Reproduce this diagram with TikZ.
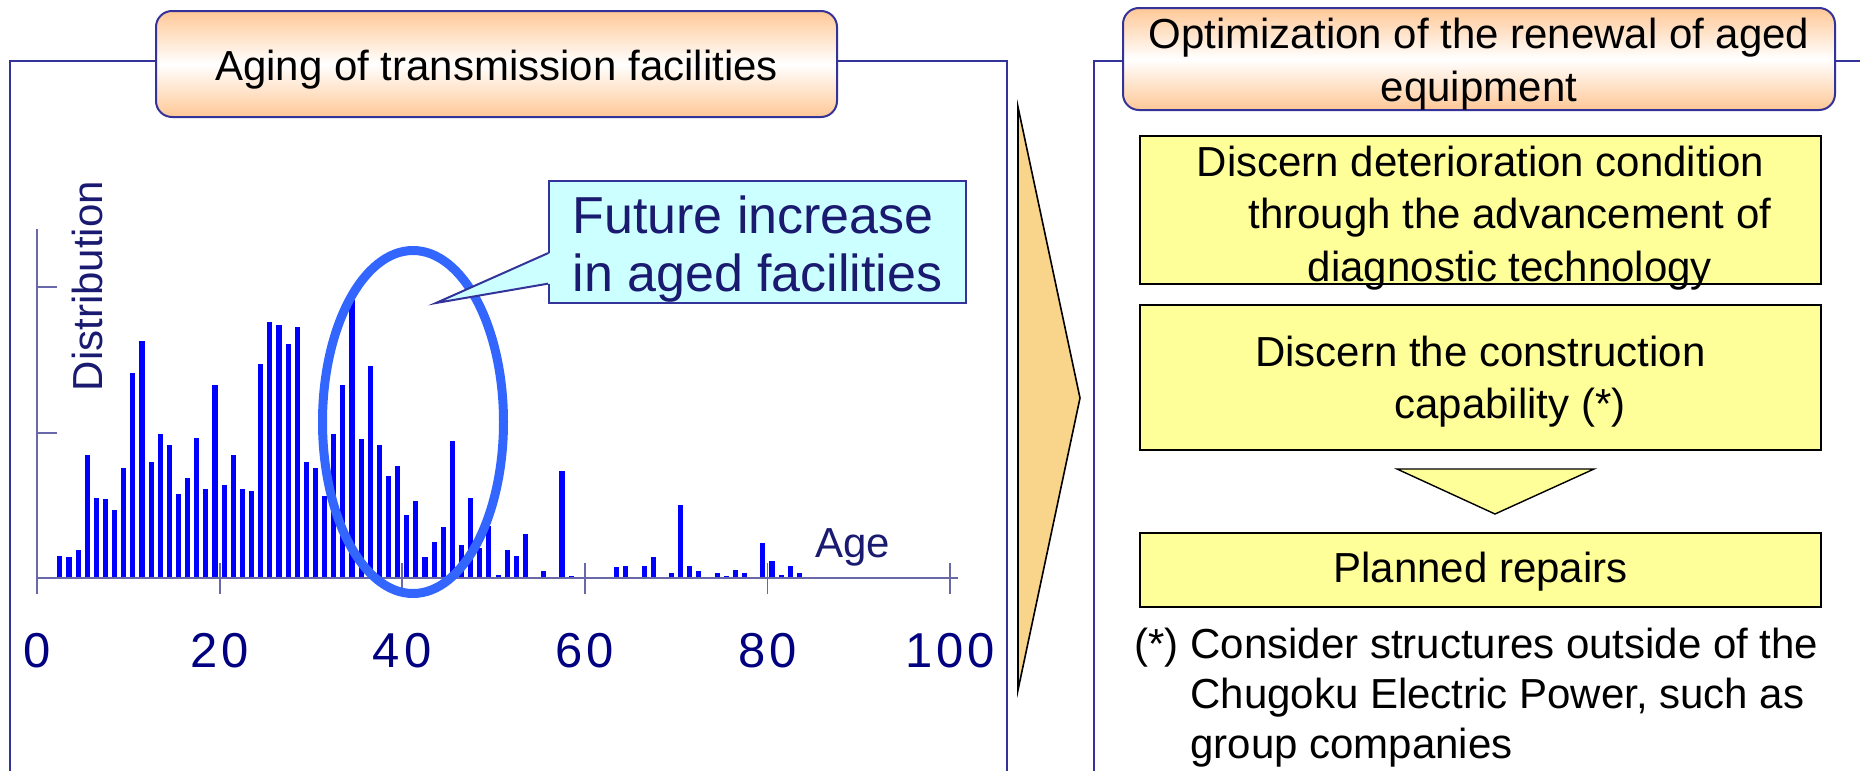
\documentclass[tikz,border=0pt]{standalone}
\usepackage{fontspec}
\setmainfont{Liberation Sans}
\newfontfamily\ticksfont[LetterSpace=8]{Liberation Sans}
\usetikzlibrary{calc,positioning}
\definecolor{framenavy}{RGB}{51,51,153}
\definecolor{textnavy}{RGB}{26,26,112}
\definecolor{ticknavy}{RGB}{0,0,128}
\definecolor{axisline}{RGB}{105,105,170}
\definecolor{barblue}{RGB}{0,0,255}
\definecolor{ringblue}{RGB}{51,102,255}
\definecolor{peach}{RGB}{255,200,150}
\definecolor{calloutcyan}{RGB}{204,255,255}
\definecolor{noteyellow}{RGB}{255,255,153}
\definecolor{arroworange}{RGB}{249,212,139}

\begin{document}
\begin{tikzpicture}[x=0.5pt,y=-0.5pt,
    frame/.style={draw=framenavy,line width=1pt},
    titlebox/.style={draw=framenavy,line width=1pt,rounded corners=8pt,top color=peach,bottom color=peach,middle color=white,inner sep=0pt,align=center,font=\fontsize{21}{26.5}\selectfont},
    stepbox/.style={draw=black,line width=1pt,fill=noteyellow,minimum width=340.5pt,inner sep=0pt},
    steptext/.style={inner sep=0pt,align=center,font=\fontsize{21}{26.2}\selectfont},
    axis/.style={draw=axisline,line width=0.9pt},
    ticklabel/.style={text=ticknavy,font=\ticksfont\fontsize{24.5}{26}\selectfont},
    navylabel/.style={text=textnavy,font=\fontsize{21}{25}\selectfont}]
    \useasboundingbox (0,0) rectangle (1860,771);
    \draw[frame] (10,771) -- (10,61) -- (1007,61) -- (1007,771);
    \draw[frame] (1860,61) -- (1094,61) -- (1094,771);
    \node[titlebox,minimum width=340.5pt,minimum height=53pt] (agingtitle) at (496.5,64) {\rule{0pt}{21pt}Aging of transmission facilities};
    \node[titlebox,minimum width=356pt,minimum height=51pt] (renewaltitle) at (1479,59) {\rule{0pt}{20pt}Optimization of the renewal of aged\\equipment};
    \begin{scope}[shift={(37,578)},x=4.565pt,y=0.5pt]
      \foreach \h [count=\i] in {22,21,28,123,80,79,68,110,205,237,116,144,133,84,100,140,89,193,93,123,89,87,214,256,253,234,251,116,110,82,144,193,278,139,212,133,102,112,63,77,21,36,51,137,33,80,30,52,3,28,22,44,0,7,0,107,2,0,0,0,0,11,12,0,12,21,0,5,73,12,7,0,5,2,8,5,0,35,17,3,12,5}
        \fill[barblue] (\i+1.22,0) rectangle (\i+1.78,\h);
      \draw[axis] (0,-16) -- (0,349);
      \draw[axis] (0,0) -- (100.9,0);
      \draw[axis] (0,145) -- ++(10pt,0);
      \draw[axis] (0,291) -- ++(10pt,0);
      \foreach \t in {20,40,...,100}
        \draw[axis] (\t,-16) -- (\t,15);
      \foreach \t in {0,20,...,100}
        \node[ticklabel] (age\t) at (\t,-73) {\t};
    \end{scope}
    \node[navylabel,rotate=90] (distlabel) at (87,286) {Distribution};
    \node[navylabel,anchor=base west] (agelabel) at (808,557) {Age};
    \draw[ringblue,line width=4.5pt] (413,422) ellipse [x radius=90.5, y radius=171.5];
    \node[draw=framenavy,line width=1pt,fill=calloutcyan,minimum width=208.5pt,minimum height=61pt,inner sep=0pt,align=left,text=textnavy,font=\fontsize{26}{29}\selectfont] (future) at (757.5,242) {\rule{0pt}{25.5pt}Future increase\\in aged facilities};
    \coordinate (tip) at (436,303);
    \fill[calloutcyan] ($(future.south west)!0.164!(future.north west)+(2,0)$) -- (tip) -- ($(future.south west)!0.41!(future.north west)+(2,0)$) -- cycle;
    \draw[framenavy,line width=1pt] ($(future.south west)!0.164!(future.north west)$) -- (tip) -- ($(future.south west)!0.41!(future.north west)$);
    \draw[line width=0.8pt,fill=arroworange] (1018,107) -- (1080,398) -- (1018,690) -- cycle;
    \node[stepbox,minimum height=74pt] (discern) at (1480.5,210) {};
    \node[stepbox,minimum height=72.5pt,below=9.5pt of discern] (capability) {};
    \node[stepbox,minimum height=37pt,below=40.5pt of capability] (repairs) {};
    \node[steptext,yshift=-4pt] (discerntext) at (discern) {Discern deterioration condition\\\hspace*{1.4em}through the advancement of\\\hspace*{1.4em}diagnostic technology};
    \node[steptext,yshift=-2pt] (capabilitytext) at (capability) {Discern the construction\\\hspace*{1.4em}capability (*)};
    \node[steptext,yshift=-1pt] (repairstext) at (repairs) {Planned repairs};
    \draw[line width=0.7pt,fill=noteyellow] (1397,469) -- (1594,469) -- (1495,514) -- cycle;
    \node[anchor=base west,inner sep=0pt,font=\fontsize{21}{25}\selectfont] (footnote) at (1134,658) {\begin{tabular}[t]{@{}l@{~}l@{}}(*)&Consider structures outside of the\\&Chugoku Electric Power, such as\\&group companies\end{tabular}};
\end{tikzpicture}
\end{document}
